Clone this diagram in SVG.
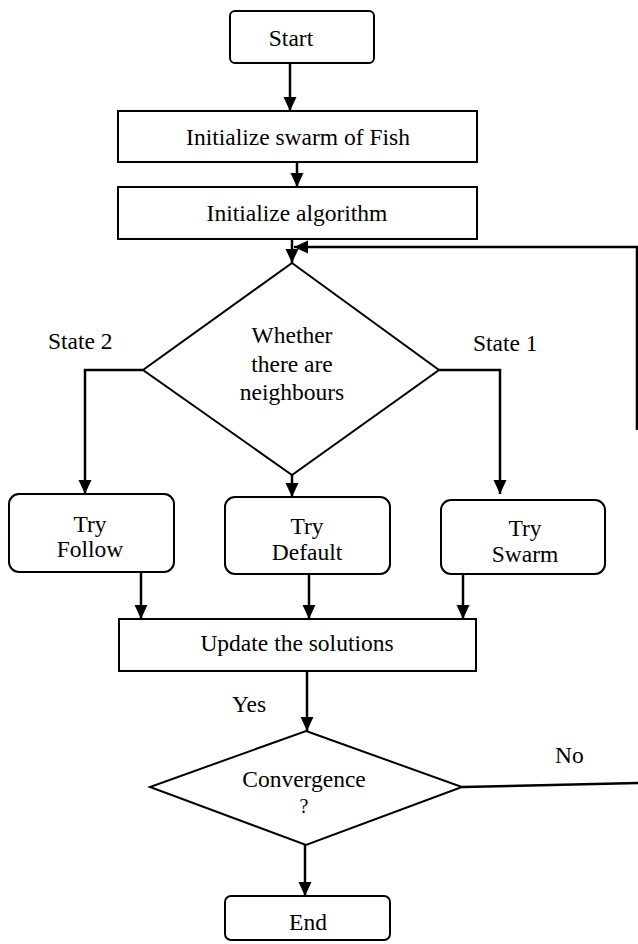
<svg xmlns="http://www.w3.org/2000/svg" width="638" height="944" viewBox="0 0 638 944">
<defs>
<marker id="ah" viewBox="0 0 14 14" refX="14" refY="7" markerWidth="14" markerHeight="14" markerUnits="userSpaceOnUse" orient="auto">
<path d="M0,0.5 L14,7 L0,13.5 z" fill="#000"/>
</marker>
</defs>
<style>
.box{fill:#fff;stroke:#000;stroke-width:2}
.t{font-family:"Liberation Serif","Times New Roman",serif;font-size:23.5px;fill:#000;text-anchor:middle}
.lbl{font-family:"Liberation Serif","Times New Roman",serif;font-size:23.5px;fill:#000}
.c{fill:none;stroke:#000;stroke-width:2.5}
.ca{fill:none;stroke:#000;stroke-width:2.5;marker-end:url(#ah)}
</style>
<rect width="638" height="944" fill="#fff"/>
<g id="connectors">
<path class="ca" d="M290,63 L290,111"/>
<path class="ca" d="M297,162 L297,187"/>
<path class="ca" d="M292,239 L292,263"/>
<path class="ca" d="M637,430 L637,247 L294,247"/>
<path class="ca" d="M143,370 L85,370 L85,494"/>
<path class="ca" d="M439,370 L500,370 L500,494"/>
<path class="ca" d="M292,475 L292,497"/>
<path class="ca" d="M141,572 L141,619"/>
<path class="ca" d="M309,574 L309,619"/>
<path class="ca" d="M463,570 L463,619"/>
<path class="ca" d="M307,671 L307,731"/>
<path class="c" d="M462,787 L638,783"/>
<path class="ca" d="M305,845 L305,896"/>
</g>
<g id="labels">
<text class="lbl" x="48" y="349">State 2</text>
<text class="lbl" x="473" y="351">State 1</text>
<text class="lbl" x="232" y="712">Yes</text>
<text class="lbl" x="555" y="763">No</text>
</g>
<g id="start">
<rect class="box" x="230" y="11" width="144" height="52" rx="5"/>
<text class="t" x="291" y="46">Start</text>
</g>
<g id="init-swarm">
<rect class="box" x="118" y="111" width="359" height="51"/>
<text class="t" x="298" y="145">Initialize swarm of Fish</text>
</g>
<g id="init-algorithm">
<rect class="box" x="118" y="187" width="359" height="52"/>
<text class="t" x="297" y="221">Initialize algorithm</text>
</g>
<g id="neighbours">
<polygon class="box" points="292,263 439,370 292,475 143,370"/>
<text class="t" x="292" y="343">Whether</text>
<text class="t" x="292" y="372">there are</text>
<text class="t" x="292" y="400">neighbours</text>
</g>
<g id="try-follow">
<rect class="box" x="9" y="494" width="165" height="78" rx="10"/>
<text class="t" x="90" y="532">Try</text>
<text class="t" x="90" y="557">Follow</text>
</g>
<g id="try-default">
<rect class="box" x="225" y="497" width="165" height="77" rx="10"/>
<text class="t" x="307" y="534">Try</text>
<text class="t" x="307" y="560">Default</text>
</g>
<g id="try-swarm">
<rect class="box" x="441" y="500" width="164" height="74" rx="10"/>
<text class="t" x="525" y="536">Try</text>
<text class="t" x="525" y="562">Swarm</text>
</g>
<g id="update">
<rect class="box" x="119" y="619" width="357" height="52"/>
<text class="t" x="297" y="651">Update the solutions</text>
</g>
<g id="convergence">
<polygon class="box" points="306,731 462,787 306,845 150,787"/>
<text class="t" x="304" y="787">Convergence</text>
<text class="t" x="304" y="813" style="font-size:20px">?</text>
</g>
<g id="end">
<rect class="box" x="225" y="896" width="165" height="44" rx="6"/>
<text class="t" x="308" y="930">End</text>
</g>
</svg>
